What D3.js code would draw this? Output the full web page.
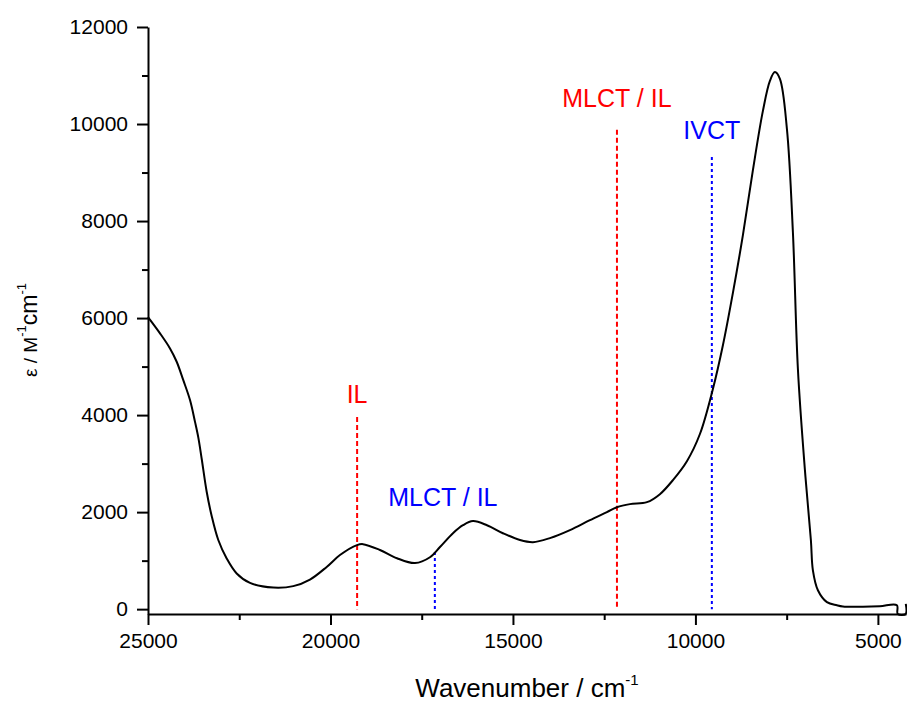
<!DOCTYPE html>
<html>
<head>
<meta charset="utf-8">
<script src="https://cdn.jsdelivr.net/npm/d3@7"></script>
<style>
  body { margin: 0; background: #fff; }
  svg { display: block; font-family: Arial, 'Liberation Sans', sans-serif; }
</style>
</head>
<body>
<svg id="chart" width="907" height="702"></svg>
<script>
// spectrum (wavenumber / cm-1, epsilon / M-1 cm-1)
const wavenumber = [
  25000, 24671, 24397, 24214, 24033, 23849, 23712, 23622, 23529, 23392,
  23255, 23074, 22844, 22570, 22205, 21567, 21019, 20562, 20104, 19740,
  19274, 19110, 18644, 18178, 17685, 17274, 17000, 16644, 16370, 16096,
  15712, 15274, 14808, 14452, 13986, 13438, 12890, 12425, 12151, 11795,
  11329, 10973, 10616, 10233, 9877, 9521, 9247, 8973, 8699, 8425,
  8151, 7959, 7822, 7685, 7493, 7329, 7192, 7000, 6836, 6781,
  6644, 6397, 6123, 5959, 5411, 4945, 4480, 4456, 4240, 4236
]
const epsilon = [
  6020, 5685, 5375, 5100, 4720, 4310, 3860, 3540, 3100, 2420,
  1920, 1425, 1045, 735, 540, 445, 475, 610, 870, 1115,
  1320, 1340, 1220, 1050, 950, 1070, 1280, 1565, 1730, 1815,
  1730, 1565, 1425, 1380, 1465, 1630, 1835, 2000, 2100, 2165,
  2205, 2370, 2660, 3050, 3610, 4540, 5440, 6520, 7710, 9050,
  10270, 10890, 11070, 10930, 9900, 7770, 4950, 2870, 1420, 800,
  390, 145, 80, 55, 50, 60, 82, -100, -100, 110
]

// band assignments
const bandLabels = ['IL', 'MLCT / IL', 'MLCT / IL', 'IVCT']
const bandColors = ['#ff0000', '#0000ff', '#ff0000', '#0000ff']
const bandPositions = [19270, 17140, 12150, 9550]
const bandLineTops = [3960, 1180, 9880, 9320]
const bandLabelX = [19270, 16920, 12150, 9550]
const bandLabelY = [4250, 2120, 10350, 9690]

const xMajor = [25000, 20000, 15000, 10000, 5000]
const xMinor = [22500, 17500, 12500, 7500]
const yMajor = [0, 2000, 4000, 6000, 8000, 10000, 12000]
const yMinor = [1000, 3000, 5000, 7000, 9000, 11000]

const data = wavenumber.map((w, i) => ({ x: w, y: epsilon[i] }))
const bands = bandLabels.map((l, i) => ({
  label: l,
  color: bandColors[i],
  x: bandPositions[i],
  top: bandLineTops[i],
  lx: bandLabelX[i],
  ly: bandLabelY[i],
}))

const svg = d3.select('#chart')

const x = d3.scaleLinear().domain([25000, 4230]).range([148, 906])
const y = d3.scaleLinear().domain([-100, 12000]).range([614, 27])

// axes: major ticks with labels, minor ticks without
const xAxis = svg.append('g').attr('transform', `translate(0,${y.range()[0]})`)
xAxis.call(
  d3
    .axisBottom(x)
    .tickValues(xMajor)
    .tickFormat(d3.format('d'))
    .tickSize(11)
    .tickSizeOuter(0)
    .tickPadding(8)
)
xAxis
  .append('g')
  .call(d3.axisBottom(x).tickValues(xMinor).tickSize(6).tickFormat('').tickSizeOuter(0))
  .select('.domain')
  .remove()

const yAxis = svg.append('g').attr('transform', `translate(${x.range()[0]},0)`)
yAxis.call(
  d3
    .axisLeft(y)
    .tickValues(yMajor)
    .tickFormat(d3.format('d'))
    .tickSize(11)
    .tickSizeOuter(0)
    .tickPadding(9)
)
yAxis
  .append('g')
  .call(d3.axisLeft(y).tickValues(yMinor).tickSize(6).tickFormat('').tickSizeOuter(0))
  .select('.domain')
  .remove()

svg.selectAll('.domain').attr('stroke', '#000').attr('stroke-width', 2)
svg.selectAll('.tick line').attr('stroke', '#000').attr('stroke-width', 2)
svg
  .selectAll('.tick text')
  .attr('font-family', "Arial, 'Liberation Sans', sans-serif")
  .attr('font-size', 21)
  .attr('fill', '#000')

// band marker lines
svg
  .append('g')
  .selectAll('line')
  .data(bands)
  .join('line')
  .attr('x1', (d) => x(d.x))
  .attr('x2', (d) => x(d.x))
  .attr('y1', (d) => y(d.top))
  .attr('y2', y(0))
  .attr('stroke', (d) => d.color)
  .attr('stroke-width', 2)
  .attr('stroke-dasharray', (d) => (d.color === '#ff0000' ? '5,3' : '3,3'))

// spectrum
svg
  .append('path')
  .datum(data)
  .attr('fill', 'none')
  .attr('stroke', '#000')
  .attr('stroke-width', 2)
  .attr('stroke-linejoin', 'round')
  .attr(
    'd',
    d3
      .line()
      .x((d) => x(d.x))
      .y((d) => y(d.y))
      .curve(d3.curveCatmullRom.alpha(0.5))
  )

// band labels
svg
  .append('g')
  .selectAll('text')
  .data(bands)
  .join('text')
  .attr('x', (d) => x(d.lx))
  .attr('y', (d) => y(d.ly))
  .attr('text-anchor', 'middle')
  .attr('font-size', 25)
  .attr('fill', (d) => d.color)
  .text((d) => d.label)

// axis titles
const xTitle = svg
  .append('text')
  .attr('x', 527)
  .attr('y', 697)
  .attr('text-anchor', 'middle')
  .attr('font-size', 26)
xTitle.append('tspan').text('Wavenumber / cm')
xTitle.append('tspan').attr('font-size', 15).attr('dy', -12).text('-1')

const yTitle = svg
  .append('text')
  .attr('transform', 'translate(37,330) rotate(-90)')
  .attr('text-anchor', 'middle')
  .attr('font-size', 23)
yTitle.append('tspan').attr('font-size', 19).text('ε / M')
yTitle.append('tspan').attr('font-size', 13).attr('dy', -11).text('-1')
yTitle.append('tspan').attr('dy', 11).text('cm')
yTitle.append('tspan').attr('font-size', 13).attr('dy', -11).text('-1')
</script>
</body>
</html>
